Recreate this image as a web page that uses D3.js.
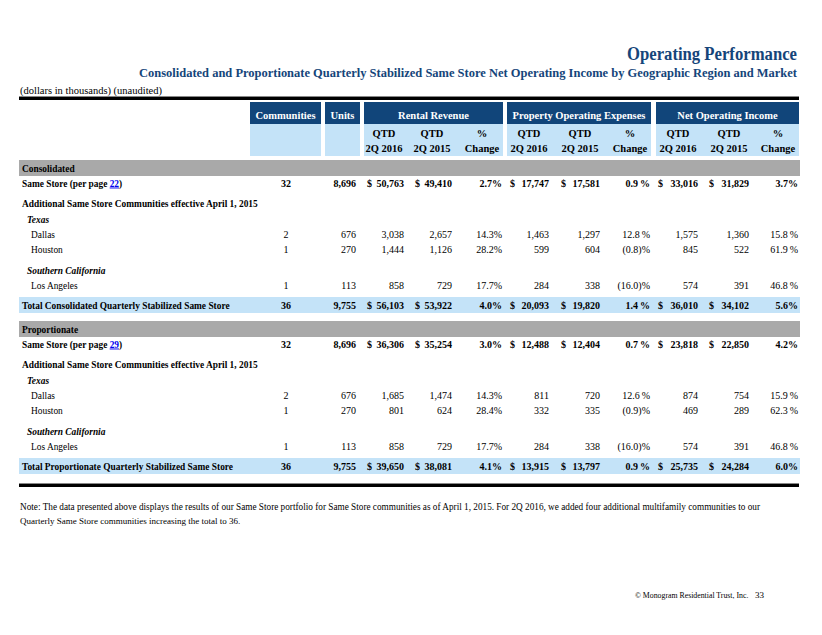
<!DOCTYPE html>
<html><head><meta charset="utf-8">
<script src="https://cdn.jsdelivr.net/npm/d3@7"></script>
<style>
body{margin:0;background:#fff;}
svg{display:block;}
text{font-family:"Liberation Serif","Times New Roman",serif;}
</style></head>
<body><div id="chart"></div>
<script>
// ---------- data ----------
const title = "Operating Performance";
const subtitle = "Consolidated and Proportionate Quarterly Stabilized Same Store Net Operating Income by Geographic Region and Market";
const unitsNote = "(dollars in thousands) (unaudited)";
const groupHeaders = ["Communities", "Units", "Rental Revenue", "Property Operating Expenses", "Net Operating Income"];
const periodLabels = ["2Q 2016", "2Q 2015", "Change"];
const sections = ["Consolidated", "Proportionate"];
const sameStorePages = ["22", "29"];
const subheadLabel = "Additional Same Store Communities effective April 1, 2015";
const regions = ["Texas", "Southern California"];
const markets = ["Dallas", "Houston", "Los Angeles"];
const totalLabels = ["Total Consolidated Quarterly Stabilized Same Store", "Total Proportionate Quarterly Stabilized Same Store"];

// rows: Same Store, Dallas, Houston, Los Angeles, Total
const consCommunities = [32, 2, 1, 1, 36];
const consUnits = [8696, 676, 270, 113, 9755];
const consRR2016 = [50763, 3038, 1444, 858, 56103];
const consRR2015 = [49410, 2657, 1126, 729, 53922];
const consRRChg = [2.7, 14.3, 28.2, 17.7, 4.0];
const consPOE2016 = [17747, 1463, 599, 284, 20093];
const consPOE2015 = [17581, 1297, 604, 338, 19820];
const consPOEChg = [0.9, 12.8, -0.8, -16.0, 1.4];
const consNOI2016 = [33016, 1575, 845, 574, 36010];
const consNOI2015 = [31829, 1360, 522, 391, 34102];
const consNOIChg = [3.7, 15.8, 61.9, 46.8, 5.6];

const propCommunities = [32, 2, 1, 1, 36];
const propUnits = [8696, 676, 270, 113, 9755];
const propRR2016 = [36306, 1685, 801, 858, 39650];
const propRR2015 = [35254, 1474, 624, 729, 38081];
const propRRChg = [3.0, 14.3, 28.4, 17.7, 4.1];
const propPOE2016 = [12488, 811, 332, 284, 13915];
const propPOE2015 = [12404, 720, 335, 338, 13797];
const propPOEChg = [0.7, 12.6, -0.9, -16.0, 0.9];
const propNOI2016 = [23818, 874, 469, 574, 25735];
const propNOI2015 = [22850, 754, 289, 391, 24284];
const propNOIChg = [4.2, 15.9, 62.3, 46.8, 6.0];

const noteLines = [
  "Note: The data presented above displays the results of our Same Store portfolio for Same Store communities as of April 1, 2015.  For 2Q 2016, we added four additional multifamily communities to our",
  "Quarterly Same Store communities increasing the total to 36."
];
const footerText = "\u00A9 Monogram Residential Trust, Inc.";
const pageNumber = "33";

// ---------- layout ----------
const W = 822, H = 635;
const DARK = "#11457a", LIGHT = "#c4e3f8", GRAY = "#a9a9a9", TITLE = "#15457a";
const svg = d3.select("#chart").append("svg").attr("width", W).attr("height", H);

const colKeys = ["comm","units","rr16","rr15","rrChg","poe16","poe15","poeChg","noi16","noi15","noiChg"];
const colRight = d3.scaleOrdinal().domain(colKeys).range([291,356,404,452,502,549,600,650,698,749,798]);
const dollarX = d3.scaleOrdinal().domain(["rr16","rr15","poe16","poe15","noi16","noi15"]).range([367,415,510,561,658,709]);
const groupBox = d3.scaleOrdinal().domain(groupHeaders).range([[250,321],[325,360],[364,503],[507,651],[656,799]]);

// title
svg.append("text").attr("x", 797).attr("y", 60).attr("text-anchor","end")
  .attr("font-size", 18.5).attr("font-weight","bold").attr("fill", TITLE)
  .attr("textLength", 170).attr("lengthAdjust","spacingAndGlyphs").text(title);
svg.append("text").attr("x", 797).attr("y", 77).attr("text-anchor","end")
  .attr("font-size", 12).attr("font-weight","bold").attr("fill", TITLE)
  .attr("textLength", 658).attr("lengthAdjust","spacingAndGlyphs").text(subtitle);
svg.append("text").attr("x", 20).attr("y", 93.5).attr("font-size", 10.5)
  .attr("textLength", 142).attr("lengthAdjust","spacingAndGlyphs").text(unitsNote);
svg.append("rect").attr("x",19).attr("y",96).attr("width",780).attr("height",1).attr("fill","#888");
svg.append("rect").attr("x",19).attr("y",97).attr("width",780).attr("height",3).attr("fill","#000");

// header boxes
groupHeaders.forEach(g => {
  const [x0,x1] = groupBox(g);
  svg.append("rect").attr("x",x0).attr("y",102).attr("width",x1-x0).attr("height",22).attr("fill",DARK);
  svg.append("rect").attr("x",x0).attr("y",124).attr("width",x1-x0).attr("height",32).attr("fill",LIGHT);
  svg.append("text").attr("x",(x0+x1)/2).attr("y",119).attr("text-anchor","middle")
    .attr("font-size",10.5).attr("font-weight","bold").attr("fill","#fff").text(g);
});
// sub headers
const subCols = [["rr16","rr15","rrChg"],["poe16","poe15","poeChg"],["noi16","noi15","noiChg"]];
subCols.forEach(trip => trip.forEach((k,i) => {
  const cx = colRight(k) - 20;
  svg.append("text").attr("x",cx).attr("y",137).attr("text-anchor","middle")
    .attr("font-size",10.5).attr("font-weight","bold").text(i<2 ? "QTD" : "%");
  svg.append("text").attr("x",cx).attr("y",152).attr("text-anchor","middle")
    .attr("font-size",10.5).attr("font-weight","bold").text(periodLabels[i]);
}));

// ---------- body ----------
const fmt = d3.format(",");
function pct(v, spaced){
  const s = Math.abs(v).toFixed(1);
  return v < 0 ? "(" + s + ")%" : s + (spaced ? "\u2009%" : "%");
}
const sectionData = [
  {comm:consCommunities,units:consUnits,rr16:consRR2016,rr15:consRR2015,rrChg:consRRChg,poe16:consPOE2016,poe15:consPOE2015,poeChg:consPOEChg,noi16:consNOI2016,noi15:consNOI2015,noiChg:consNOIChg},
  {comm:propCommunities,units:propUnits,rr16:propRR2016,rr15:propRR2015,rrChg:propRRChg,poe16:propPOE2016,poe15:propPOE2015,poeChg:propPOEChg,noi16:propNOI2016,noi15:propNOI2015,noiChg:propNOIChg}
];
const sectionTop = d3.scaleOrdinal().domain(sections).range([160, 321]);
// row centre offsets from the grey bar top
const off = {section:8, same:23, sub:43, texas:59, dallas:74, houston:89, socal:110, la:125, total:145.5};
const dataRowOff = [off.same, off.dallas, off.houston, off.la, off.total];
const LABEL_FS = 9.4;

sections.forEach((sec, si) => {
  const t = sectionTop(sec);
  const d = sectionData[si];
  svg.append("rect").attr("x",19).attr("y",t).attr("width",781).attr("height",16).attr("fill",GRAY);
  svg.append("rect").attr("x",19).attr("y",t+137).attr("width",781).attr("height",16).attr("fill",LIGHT);
  const lbl = (txt, y, x, opts={}) => svg.append("text").attr("x",x).attr("y",t+y+3.5)
      .attr("font-size",LABEL_FS).attr("font-weight",opts.bold?"bold":"normal")
      .attr("font-style",opts.italic?"italic":"normal").text(txt);
  lbl(sec, off.section, 22, {bold:true});
  const ss = lbl("Same Store (per page ", off.same, 22, {bold:true});
  ss.append("tspan").attr("fill","#0000ee").attr("text-decoration","underline").text(sameStorePages[si]);
  ss.append("tspan").text(")");
  lbl(subheadLabel, off.sub, 22, {bold:true});
  lbl(regions[0], off.texas, 27, {bold:true, italic:true});
  lbl(markets[0], off.dallas, 31);
  lbl(markets[1], off.houston, 31);
  lbl(regions[1], off.socal, 27, {bold:true, italic:true});
  lbl(markets[2], off.la, 31);
  lbl(totalLabels[si], off.total, 22, {bold:true});

  dataRowOff.forEach((ro, ri) => {
    const bold = (ri === 0 || ri === 4);
    const y = t + ro + 3.5;
    colKeys.forEach(k => {
      const v = d[k][ri];
      let s;
      if (k === "comm" || k === "units") s = fmt(v);
      else if (k === "rrChg") s = pct(v, false);
      else if (k === "poeChg") s = pct(v, true);
      else if (k === "noiChg") s = pct(v, !bold);
      else s = fmt(v);
      svg.append("text").attr("x", k==="comm" ? colRight(k)-5 : colRight(k)).attr("y", y)
        .attr("text-anchor", k==="comm" ? "middle" : "end")
        .attr("font-size",10).attr("font-weight",bold?"bold":"normal").text(s);
      if (bold && ["rr16","rr15","poe16","poe15","noi16","noi15"].includes(k)) {
        svg.append("text").attr("x", dollarX(k)).attr("y", y).attr("font-size",10)
          .attr("font-weight","bold").text("$");
      }
    });
  });
});

// bottom rule
svg.append("rect").attr("x",19).attr("y",483).attr("width",780).attr("height",1).attr("fill","#888");
svg.append("rect").attr("x",19).attr("y",484).attr("width",780).attr("height",3).attr("fill","#000");

// note
noteLines.forEach((ln, i) => {
  const t = svg.append("text").attr("x",20).attr("y",510 + i*14).attr("font-size",9.5).text(ln);
  if (i === 0) t.attr("textLength", 740).attr("lengthAdjust","spacingAndGlyphs");
  else t.attr("font-size", 9);
});
svg.append("text").attr("x",635).attr("y",598).attr("font-size",7.8).text(footerText);
svg.append("text").attr("x",755).attr("y",598).attr("font-size",9).text(pageNumber);
</script></body></html>
